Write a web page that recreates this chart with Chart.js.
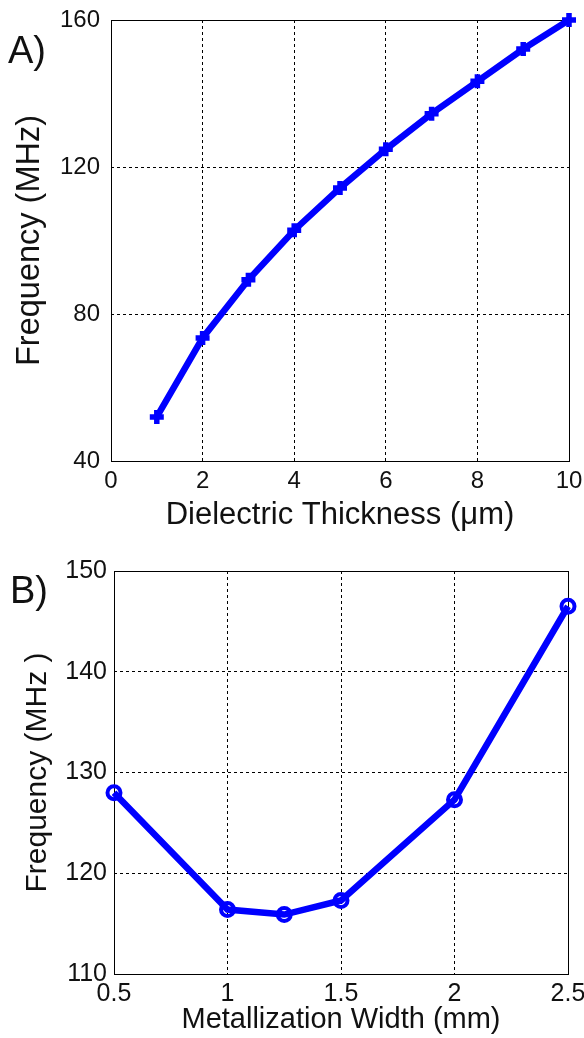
<!DOCTYPE html>
<html>
<head>
<meta charset="utf-8">
<script src="https://cdn.jsdelivr.net/npm/chart.js@4"></script>
<style>
  html, body { margin: 0; padding: 0; background: #fff; }
  body { width: 584px; height: 1038px; position: relative; overflow: hidden; font-family: "Liberation Sans", Arial, sans-serif; }
  canvas { position: absolute; left: 0; }
  #cA { top: 0; }
  #cB { top: 540px; }
  .panel { position: absolute; font-size: 38px; line-height: 38px; color: #111; }
  #pA { left: 8px; top: 31px; }
  #pB { left: 10px; top: 571px; }
</style>
</head>
<body>
<canvas id="cA" width="584" height="540"></canvas>
<canvas id="cB" width="584" height="498"></canvas>
<div class="panel" id="pA">A)</div>
<div class="panel" id="pB">B)</div>
<script>
// Panel A: resonance frequency vs. dielectric thickness
const thicknessUm = [1, 2, 3, 4, 5, 6, 7, 8, 9, 10];
const freqVsThickness = [52.0, 73.5, 89.3, 102.8, 114.3, 124.8, 134.5, 143.3, 152.1, 160.0];
const thicknessTicks = [0, 2, 4, 6, 8, 10];
const freqTicksA = [40, 80, 120, 160];

// Panel B: resonance frequency vs. metallization width
const widthMm = [0.5, 1.0, 1.25, 1.5, 2.0, 2.5];
const freqVsWidth = [128.0, 116.4, 115.9, 117.3, 127.3, 146.5];
const widthTicks = [0.5, 1, 1.5, 2, 2.5];
const widthTickLabels = ['0.5', '1', '1.5', '2', '2.5'];
const freqTicksB = [110, 120, 130, 140, 150];

const FONT = "'Liberation Sans', Arial, sans-serif";
const INK = '#111';
const BLUE = '#0000ff';

// Solid frame around the plot area (all four sides)
const framePlugin = {
  id: 'frame',
  beforeDatasetsDraw(chart) {
    const { ctx, chartArea: a } = chart;
    ctx.save();
    ctx.strokeStyle = '#000';
    ctx.lineWidth = 1;
    ctx.setLineDash([]);
    ctx.strokeRect(Math.round(a.left) + 0.5, Math.round(a.top) + 0.5,
                   Math.round(a.right - a.left), Math.round(a.bottom - a.top));
    ctx.restore();
  }
};

function setTicks(values) {
  return scale => { scale.ticks = values.map(v => ({ value: v })); };
}

function makeChart(id, cfg) {
  return new Chart(document.getElementById(id), {
    type: 'scatter',
    data: {
      datasets: [{
        data: cfg.xs.map((x, i) => ({ x, y: cfg.ys[i] })),
        showLine: true,
        borderColor: BLUE,
        backgroundColor: cfg.pointFill,
        borderWidth: 6.5,
        tension: 0,
        pointStyle: cfg.pointStyle,
        pointRadius: cfg.pointRadius,
        pointBorderWidth: cfg.pointBorderWidth,
        pointBorderColor: BLUE,
        pointBackgroundColor: cfg.pointFill,
        clip: false
      }]
    },
    options: {
      responsive: false,
      animation: false,
      events: [],
      layout: { padding: cfg.padding },
      plugins: { legend: { display: false }, tooltip: { enabled: false } },
      scales: {
        x: {
          type: 'linear',
          min: cfg.xMin, max: cfg.xMax,
          afterBuildTicks: setTicks(cfg.xTicks),
          afterFit: s => { s.height = cfg.xAxisHeight; s.paddingLeft = 0; s.paddingRight = 0; },
          grid: { color: '#000', lineWidth: 1, drawTicks: false },
          border: { display: false, dash: [3, 3] },
          ticks: {
            color: INK, padding: cfg.xTickPad, maxRotation: 0, autoSkip: false,
            font: { family: FONT, size: cfg.tickSize, lineHeight: 1 },
            callback: cfg.xLabel
          },
          title: {
            display: true, text: cfg.xTitle, color: INK,
            font: { family: FONT, size: cfg.xTitleSize, lineHeight: 1 },
            padding: { top: 0, bottom: cfg.xTitlePad }
          }
        },
        y: {
          type: 'linear',
          min: cfg.yMin, max: cfg.yMax,
          afterBuildTicks: setTicks(cfg.yTicks),
          afterFit: s => { s.width = cfg.yAxisWidth; s.paddingTop = 0; s.paddingBottom = 0; },
          grid: { color: '#000', lineWidth: 1, drawTicks: false },
          border: { display: false, dash: [3, 3] },
          ticks: {
            color: INK, padding: cfg.yTickPad, autoSkip: false,
            font: { family: FONT, size: cfg.tickSize, lineHeight: 1 },
            callback: v => String(v)
          },
          title: {
            display: true, text: cfg.yTitle, color: INK,
            font: { family: FONT, size: cfg.yTitleSize, lineHeight: 1 },
            padding: { top: cfg.yTitlePad, bottom: 0 }
          }
        }
      }
    },
    plugins: [framePlugin]
  });
}

makeChart('cA', {
  xs: thicknessUm, ys: freqVsThickness,
  xMin: 0, xMax: 10, yMin: 40, yMax: 160,
  xTicks: thicknessTicks, yTicks: freqTicksA,
  xLabel: v => String(v),
  pointStyle: 'cross', pointRadius: 7, pointBorderWidth: 5.5, pointFill: BLUE,
  padding: { top: 20, right: 15, left: 0, bottom: 0 },
  xAxisHeight: 79, yAxisWidth: 111,
  tickSize: 24, xTickPad: 8.5, yTickPad: 11,
  xTitle: 'Dielectric Thickness (\u03BCm)', xTitleSize: 31, xTitlePad: 9,
  yTitle: 'Frequency (MHz)', yTitleSize: 32.5, yTitlePad: 13.5
});

makeChart('cB', {
  xs: widthMm, ys: freqVsWidth,
  xMin: 0.5, xMax: 2.5, yMin: 110, yMax: 150,
  xTicks: widthTicks, yTicks: freqTicksB,
  xLabel: (v, i) => widthTickLabels[i],
  pointStyle: 'circle', pointRadius: 6.5, pointBorderWidth: 4, pointFill: 'rgba(0,0,0,0)',
  padding: { top: 31, right: 16, left: 0, bottom: 0 },
  xAxisHeight: 64, yAxisWidth: 114,
  tickSize: 25, xTickPad: 7.5, yTickPad: 7,
  xTitle: 'Metallization Width (mm)', xTitleSize: 29, xTitlePad: 4,
  yTitle: 'Frequency (MHz )', yTitleSize: 30, yTitlePad: 23
});
</script>
</body>
</html>
